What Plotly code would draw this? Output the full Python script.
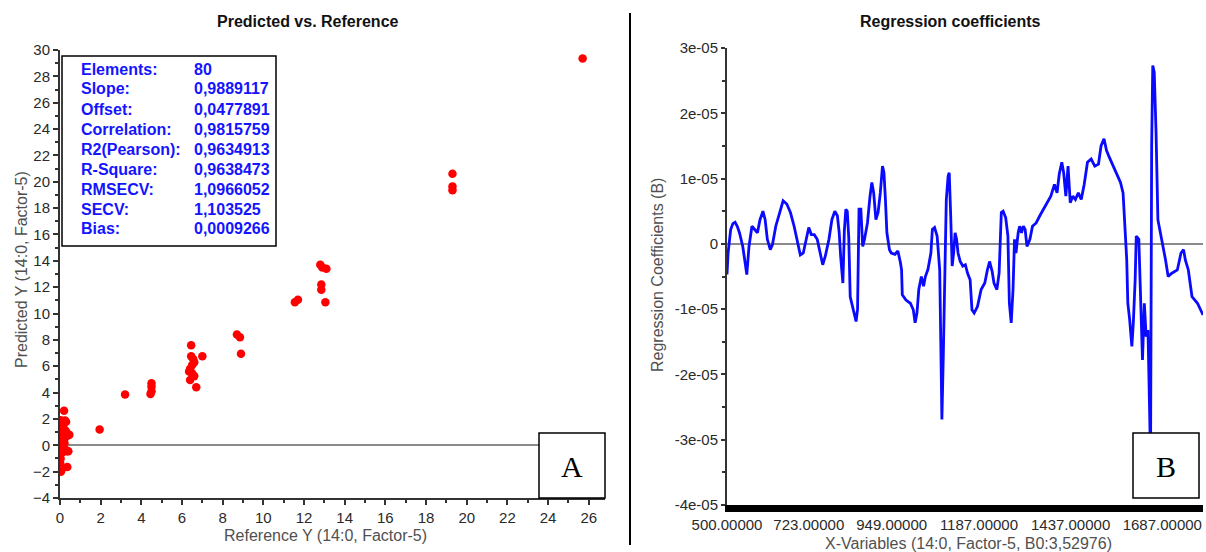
import numpy as np
import plotly.graph_objects as go

W, H = 1206, 552

# ---------------- data: Predicted vs Reference ----------------
ref_near = [0.20, 0.03, 0.25, 0.08, 0.16, 0.30, 0.00, 0.00, 0.08, 0.16, 0.25, 0.33, 0.41, 0.46,
            0.08, 0.16, 0.25, 0.16, 0.08, 0.00, 0.05, 0.12, 0.22, 0.41, 0.30, 0.03, 0.00, 0.02,
            0.07, 0.04, 0.36, 0.10, 0.14, 0.20, 0.28, 0.06, 0.18, 0.12, 0.24, 0.02, 0.10, 0.32,
            0.15, 0.05, 0.22, 0.35, 0.12]
pred_near = [2.62, 1.90, 1.88, 1.65, 1.50, 1.78, 0.76, 1.00, 1.27, 1.14, 1.00, 0.89, 0.76, 0.80,
             0.63, 0.51, 0.76, 0.25, 0.38, -0.13, -0.38, -0.20, -0.30, -0.46, -0.38, -1.00, -1.27,
             -1.45, -1.90, -2.00, -1.65, 0.90, 0.70, 1.20, 1.10, 0.45, 0.35, 1.40, 0.55, 0.20, 0.05,
             0.95, 1.70, 0.60, 0.15, -0.45, -0.55]
ref_far = [1.95, 3.2, 4.5, 4.5, 4.5, 4.45,
           6.45, 6.45, 6.55, 6.6, 6.5, 6.4, 6.35, 6.5, 6.6, 6.4, 6.7, 7.0,
           8.7, 8.85, 8.9, 11.55, 11.7,
           12.8, 12.9, 13.1, 12.85, 12.85, 13.05,
           19.3, 19.3, 19.3, 25.7]
pred_far = [1.2, 3.85, 4.7, 4.45, 4.1, 3.9,
            7.6, 6.75, 6.55, 6.3, 6.1, 5.8, 5.6, 5.45, 5.25, 4.95, 4.4, 6.75,
            8.4, 8.2, 6.95, 10.85, 11.05,
            13.7, 13.5, 13.4, 12.2, 11.8, 10.85,
            20.6, 19.65, 19.35, 29.35]
reference_y = ref_near + ref_far
predicted_y = pred_near + pred_far

stat_labels = ["Elements:", "Slope:", "Offset:", "Correlation:", "R2(Pearson):",
               "R-Square:", "RMSECV:", "SECV:", "Bias:"]
stat_values = ["80", "0,9889117", "0,0477891", "0,9815759", "0,9634913",
               "0,9638473", "1,0966052", "1,103525", "0,0009266"]

left_xticks = list(range(0, 27, 2))
left_yticks = list(range(-4, 31, 2))

# ---------------- data: Regression coefficients ----------------
wavelength = [500, 503, 510, 516, 522, 528, 534, 543, 554, 560, 568, 576, 583, 590, 598, 604, 610, 618,
              624, 633, 643, 653, 663, 673, 683, 693, 700, 708, 716, 723, 730, 738, 746, 753, 761, 768,
              778, 786, 794, 801, 806, 810, 813, 816, 820, 824, 828, 832, 836, 846, 852, 856, 860, 865,
              870, 875, 883, 890, 895, 900, 906, 912, 918, 924, 928, 932, 936, 943, 948, 958, 966, 973,
              976, 978, 988, 1000, 1008, 1013, 1018, 1023, 1030, 1036, 1041, 1048, 1056, 1060, 1066,
              1073, 1076, 1080, 1083, 1086, 1090, 1093, 1098, 1103, 1106, 1110, 1114, 1118, 1122, 1126,
              1130, 1136, 1143, 1150, 1156, 1163, 1168, 1174, 1183, 1193, 1203, 1210, 1216, 1223, 1228,
              1236, 1242, 1248, 1253, 1260, 1266, 1270, 1275, 1280, 1284, 1288, 1294, 1298, 1303, 1308,
              1313, 1318, 1326, 1333, 1343, 1353, 1363, 1373, 1383, 1393, 1400, 1406, 1413, 1418, 1424,
              1430, 1436, 1443, 1450, 1458, 1466, 1474, 1483, 1493, 1503, 1513, 1520, 1528, 1535, 1543,
              1553, 1563, 1573, 1580, 1586, 1590, 1593, 1598, 1604, 1608, 1613, 1616, 1623, 1628, 1633,
              1638, 1643, 1648, 1653, 1655, 1658, 1661, 1665, 1670, 1675, 1681, 1688, 1696, 1703, 1713,
              1728, 1738, 1745, 1750, 1758, 1768, 1783, 1798]
coef_e5 = [-0.47, -0.14, 0.22, 0.31, 0.33, 0.27, 0.17, -0.04, -0.47, -0.04, 0.27, 0.22, 0.17, 0.37,
           0.50, 0.37, 0.07, -0.09, -0.01, 0.27, 0.48, 0.66, 0.61, 0.48, 0.27, -0.01, -0.17, -0.14,
           0.07, 0.25, 0.14, 0.14, 0.07, -0.09, -0.32, -0.19, 0.07, 0.37, 0.50, 0.43, 0.17, -0.20,
           -0.37, -0.60, 0.20, 0.53, 0.50, 0.10, -0.81, -1.06, -1.19, -1.00, 0.53, 0.53, -0.04, 0.07,
           0.32, 0.73, 0.94, 0.78, 0.37, 0.48, 0.78, 1.19, 1.09, 0.68, 0.17, -0.09, -0.14, -0.16,
           -0.11, -0.29, -0.40, -0.78, -0.86, -0.91, -1.01, -1.21, -1.06, -0.70, -0.50, -0.65, -0.50,
           -0.39, -0.14, 0.22, 0.25, 0.12, -0.10, -0.40, -1.52, -2.69, -1.67, -0.81, 0.68, 1.04, 1.09,
           0.43, -0.34, -0.14, 0.17, 0.07, -0.14, -0.27, -0.34, -0.32, -0.45, -0.55, -1.01, -1.06,
           -0.96, -0.70, -0.60, -0.40, -0.27, -0.42, -0.60, -0.70, -0.45, 0.48, 0.50, 0.40, 0.12,
           -0.91, -1.21, -0.70, 0.07, -0.14, 0.17, 0.27, 0.17, 0.27, 0.22, -0.04, 0.07, 0.27, 0.32,
           0.43, 0.53, 0.61, 0.73, 0.91, 0.78, 1.07, 1.25, 1.09, 0.73, 1.19, 0.63, 0.73, 0.68, 0.78,
           0.68, 0.91, 1.25, 1.30, 1.19, 1.22, 1.50, 1.61, 1.43, 1.32, 1.19, 1.07, 0.94, 0.78, 0.27,
           -0.24, -0.91, -1.16, -1.57, -1.21, -0.55, 0.12, 0.07, -0.81, -1.78, -0.91, -1.42, -1.32,
           -2.95, -3.30, 1.50, 2.73, 2.63, 1.71, 0.37, 0.19, 0.02, -0.25, -0.50, -0.45, -0.40, -0.14,
           -0.09, -0.25, -0.40, -0.81, -0.91, -1.09]
coef_unit = 1e-5
coefficients = (np.array(coef_e5) * coef_unit).tolist()

right_xticks = [500, 723, 949, 1187, 1437, 1687]
right_xticktext = ["500.00000", "723.00000", "949.00000", "1187.00000", "1437.00000", "1687.00000"]
right_yticks = [-4e-5, -3e-5, -2e-5, -1e-5, 0, 1e-5, 2e-5, 3e-5]
right_yticktext = ["-4e-05", "-3e-05", "-2e-05", "-1e-05", "0", "1e-05", "2e-05", "3e-05"]


def fx(px):
    return px / W


def fy(py):
    return 1 - py / H


FONT = "Liberation Sans, Arial, sans-serif"
TICKFONT = dict(family=FONT, size=15, color="#2a2a2a")
TITLECOLOR = "#505050"

fig = go.Figure()
fig.add_trace(go.Scatter(x=reference_y, y=predicted_y, mode="markers",
                         marker=dict(color="#ff0000", size=8.5, line=dict(width=0)),
                         xaxis="x", yaxis="y", showlegend=False, hoverinfo="skip"))
fig.add_trace(go.Scatter(x=wavelength, y=coefficients, mode="lines",
                         line=dict(color="#0a0aff", width=2.8),
                         xaxis="x2", yaxis="y2", showlegend=False, hoverinfo="skip"))

fig.update_layout(
    width=W, height=H, margin=dict(l=0, r=0, t=0, b=0, autoexpand=False),
    paper_bgcolor="white", plot_bgcolor="white",
    xaxis=dict(domain=[fx(60), fx(605)], range=[0, 26.8], showgrid=False, zeroline=False, automargin=False,
               showline=True, linecolor="#333333", linewidth=2,
               tickvals=left_xticks, ticks="outside", ticklen=5, tickcolor="#333333", tickwidth=1.5,
               minor=dict(dtick=1, ticks="outside", ticklen=3, tickcolor="#333333", tickwidth=1.5),
               tickfont=TICKFONT, anchor="y"),
    yaxis=dict(domain=[fy(498), fy(50)], range=[-4, 30], showgrid=False, automargin=False,
               zeroline=True, zerolinecolor="#8a8a8a", zerolinewidth=1.5,
               showline=True, linecolor="#333333", linewidth=2,
               tickvals=left_yticks, ticks="outside", ticklen=5, tickcolor="#333333", tickwidth=1.5,
               minor=dict(dtick=1, ticks="outside", ticklen=3, tickcolor="#333333", tickwidth=1.5),
               tickfont=TICKFONT, anchor="x"),
    xaxis2=dict(domain=[fx(727), fx(1203)], range=[500, 1798], showgrid=False, zeroline=False,
                automargin=False,
                showline=True, linecolor="#000000", linewidth=7,
                tickvals=right_xticks, ticktext=right_xticktext, ticks="",
                tickfont=TICKFONT, anchor="y2"),
    yaxis2=dict(domain=[fy(505), fy(48)], range=[-4e-5, 3e-5], showgrid=False, automargin=False,
                zeroline=True, zerolinecolor="#8a8a8a", zerolinewidth=1.5,
                showline=True, linecolor="#333333", linewidth=2,
                tickvals=right_yticks, ticktext=right_yticktext, ticks="outside", ticklen=4,
                tickcolor="#333333", tickwidth=1.5,
                minor=dict(dtick=0.5e-5, ticks="outside", ticklen=3, tickcolor="#333333", tickwidth=1.5),
                tickfont=TICKFONT, anchor="x2"),
)

shapes = []
# statistics box
shapes.append(dict(type="rect", xref="paper", yref="paper", x0=fx(62), x1=fx(276), y0=fy(246), y1=fy(56),
                   line=dict(color="black", width=1.5), fillcolor="white", layer="above"))
# A / B label boxes
for x0, x1 in [(539, 605), (1133, 1199)]:
    shapes.append(dict(type="rect", xref="paper", yref="paper", x0=fx(x0), x1=fx(x1), y0=fy(498), y1=fy(433),
                       line=dict(color="black", width=1.5), fillcolor="white", layer="above"))
# divider
shapes.append(dict(type="line", xref="paper", yref="paper", x0=fx(630), x1=fx(630), y0=fy(545), y1=fy(13),
                   line=dict(color="black", width=2)))
fig.update_layout(shapes=shapes)

ann = []


def add_text(text, px, py, size, color, family=FONT, angle=0, xanchor="center"):
    ann.append(dict(text=text, x=fx(px), y=fy(py), xref="paper", yref="paper", showarrow=False,
                    xanchor=xanchor, yanchor="middle", textangle=angle,
                    font=dict(family=family, size=size, color=color)))


# titles
add_text("<b>Predicted vs. Reference</b>", 308, 21, 16, "#111111")
add_text("<b>Regression coefficients</b>", 950, 21, 16, "#111111")
# axis titles
add_text("Reference Y (14:0, Factor-5)", 325, 535, 16, TITLECOLOR)
add_text("Predicted Y (14:0, Factor-5)", 21, 270, 16, TITLECOLOR, angle=-90)
add_text("X-Variables (14:0, Factor-5, B0:3,52976)", 968, 543, 16, TITLECOLOR)
add_text("Regression Coefficients (B)", 657, 275, 16, TITLECOLOR, angle=-90)
# stats
for i, (lab, val) in enumerate(zip(stat_labels, stat_values)):
    add_text("<b>" + lab + "</b>", 79, 69 + 20 * i, 16, "#1414ff", xanchor="left")
    add_text("<b>" + val + "</b>", 192, 69 + 20 * i, 16, "#1414ff", xanchor="left")
# panel letters
SERIF = "Liberation Serif, Times New Roman, serif"
add_text("A", 572, 466, 30, "black", family=SERIF)
add_text("B", 1166, 466, 30, "black", family=SERIF)
fig.update_layout(annotations=ann)

fig.write_html("out.html")
